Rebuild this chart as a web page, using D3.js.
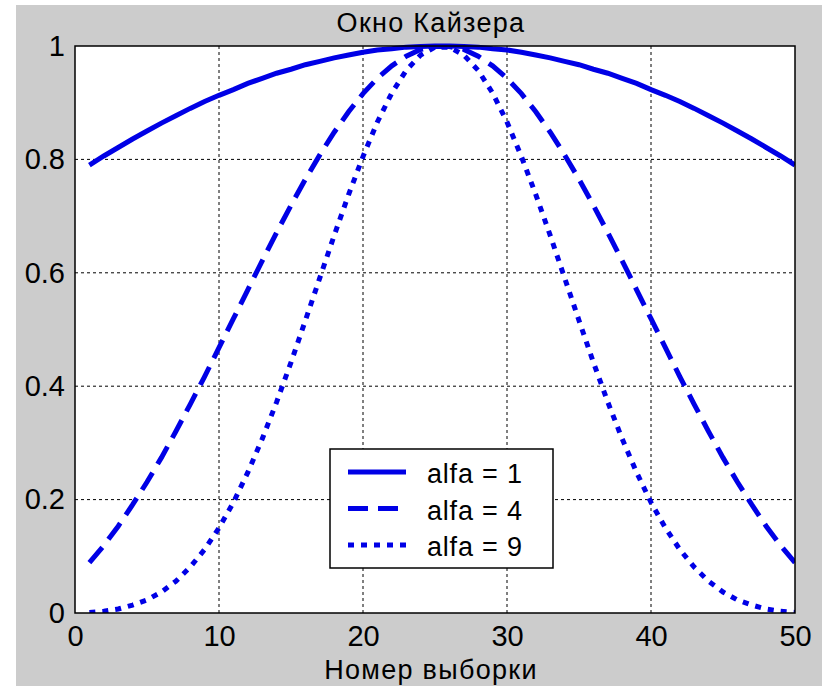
<!DOCTYPE html>
<html lang="ru">
<head>
<meta charset="UTF-8">
<title>Окно Кайзера</title>
<script src="https://d3js.org/d3.v7.min.js"></script>
<style>
  body { margin: 0; background: #ffffff; }
  text { font-family: "Liberation Sans", Arial, sans-serif; fill: #000; }
  .grid line { stroke: #000; stroke-width: 1; stroke-dasharray: 3,3; }
  .curve { fill: none; stroke: #0000e6; stroke-width: 5; }
</style>
</head>
<body>
<script>
// sample numbers 1..50
var samples = d3.range(1, 51);

// window values
var alfa1 = [0.790, 0.806, 0.821, 0.836, 0.850, 0.864, 0.877, 0.890, 0.902, 0.913,
             0.923, 0.934, 0.943, 0.952, 0.959, 0.967, 0.973, 0.979, 0.984, 0.989,
             0.993, 0.995, 0.998, 0.999, 1.000, 1.000, 0.999, 0.998, 0.995, 0.993,
             0.989, 0.984, 0.979, 0.973, 0.967, 0.959, 0.952, 0.943, 0.934, 0.923,
             0.913, 0.902, 0.890, 0.877, 0.864, 0.850, 0.836, 0.821, 0.806, 0.790];
var alfa4 = [0.089, 0.119, 0.153, 0.191, 0.231, 0.274, 0.320, 0.368, 0.417, 0.468,
             0.519, 0.570, 0.621, 0.671, 0.719, 0.765, 0.808, 0.848, 0.884, 0.916,
             0.943, 0.965, 0.982, 0.994, 0.999, 0.999, 0.994, 0.982, 0.965, 0.943,
             0.916, 0.884, 0.848, 0.808, 0.765, 0.719, 0.671, 0.621, 0.570, 0.519,
             0.468, 0.417, 0.368, 0.320, 0.274, 0.231, 0.191, 0.153, 0.119, 0.089];
var alfa9 = [0.001, 0.003, 0.007, 0.014, 0.023, 0.037, 0.056, 0.081, 0.112, 0.150,
             0.195, 0.248, 0.307, 0.372, 0.442, 0.516, 0.591, 0.666, 0.738, 0.805,
             0.866, 0.917, 0.957, 0.984, 0.998, 0.998, 0.984, 0.957, 0.917, 0.866,
             0.805, 0.738, 0.666, 0.591, 0.516, 0.442, 0.372, 0.307, 0.248, 0.195,
             0.150, 0.112, 0.081, 0.056, 0.037, 0.023, 0.014, 0.007, 0.003, 0.001];

var xTicks = [0, 10, 20, 30, 40, 50];
var yTicks = [0, 0.2, 0.4, 0.6, 0.8, 1];
var legendLabels = ["alfa = 1", "alfa = 4", "alfa = 9"];

var series = [
  {name: legendLabels[0], values: alfa1, dash: null},
  {name: legendLabels[1], values: alfa4, dash: "20,10"},
  {name: legendLabels[2], values: alfa9, dash: "6,7"}
];

var W = 822, H = 686;
var svg = d3.select("body").append("svg").attr("width", W).attr("height", H);

// gray figure background
svg.append("rect").attr("x", 16).attr("y", 5).attr("width", W - 16).attr("height", H - 5)
   .attr("fill", "#cccccc");

var pL = 75, pT = 46, pR = 795, pB = 613;
var x = d3.scaleLinear().domain([0, 50]).range([pL, pR]);
var y = d3.scaleLinear().domain([0, 1]).range([pB, pT]);

svg.append("rect").attr("x", pL).attr("y", pT)
   .attr("width", pR - pL).attr("height", pB - pT).attr("fill", "#fff");

// grid
var grid = svg.append("g").attr("class", "grid");
grid.selectAll(".vx").data(xTicks.slice(1, -1)).enter().append("line")
    .attr("x1", d => x(d)).attr("x2", d => x(d)).attr("y1", pT).attr("y2", pB);
grid.selectAll(".hy").data(yTicks.slice(1, -1)).enter().append("line")
    .attr("y1", d => y(d)).attr("y2", d => y(d)).attr("x1", pL).attr("x2", pR);

// curves
var line = d3.line().x((d, i) => x(samples[i])).y(d => y(d));
svg.append("clipPath").attr("id", "clip").append("rect")
   .attr("x", pL).attr("y", pT - 3).attr("width", pR - pL).attr("height", pB - pT + 3);
svg.append("g").attr("clip-path", "url(#clip)").selectAll("path").data(series).enter()
   .append("path").attr("class", "curve")
   .attr("d", d => line(d.values))
   .attr("stroke-dasharray", d => d.dash);

// box and axes
svg.append("rect").attr("x", pL).attr("y", pT)
   .attr("width", pR - pL).attr("height", pB - pT)
   .attr("fill", "none").attr("stroke", "#000").attr("stroke-width", 1.5);

var xAxis = d3.axisBottom(x).tickValues(xTicks).tickSize(0).tickPadding(12);
svg.append("g").attr("transform", "translate(0," + pB + ")").call(xAxis)
   .call(g => g.select(".domain").remove())
   .selectAll("text").attr("font-size", 29).attr("font-family", "Liberation Sans, Arial, sans-serif");

var yAxis = d3.axisLeft(y).tickValues(yTicks).tickFormat(d3.format("")).tickSize(0).tickPadding(10);
svg.append("g").attr("transform", "translate(" + pL + ",0)").call(yAxis)
   .call(g => g.select(".domain").remove())
   .selectAll("text").attr("font-size", 29).attr("font-family", "Liberation Sans, Arial, sans-serif");

// title and axis label
svg.append("text").attr("x", 431).attr("y", 32)
   .attr("text-anchor", "middle").attr("font-size", 27).attr("letter-spacing", 1.3)
   .text("Окно Кайзера");
svg.append("text").attr("x", 431).attr("y", 679)
   .attr("text-anchor", "middle").attr("font-size", 27).attr("letter-spacing", 1.3)
   .text("Номер выборки");

// legend
var lg = svg.append("g");
lg.append("rect").attr("x", 330).attr("y", 449).attr("width", 223).attr("height", 119)
  .attr("fill", "#fff").attr("stroke", "#000").attr("stroke-width", 1.5);
var rows = lg.selectAll(".row").data(series).enter().append("g")
  .attr("transform", (d, i) => "translate(0," + (472 + i * 36.5) + ")");
rows.append("line").attr("x1", 348).attr("x2", 406).attr("y1", 0).attr("y2", 0)
  .attr("class", "curve").attr("stroke-dasharray", d => d.dash);
rows.append("text").attr("x", 427).attr("y", 11).attr("font-size", 27)
  .attr("letter-spacing", 0.8).text(d => d.name);
</script>
</body>
</html>
